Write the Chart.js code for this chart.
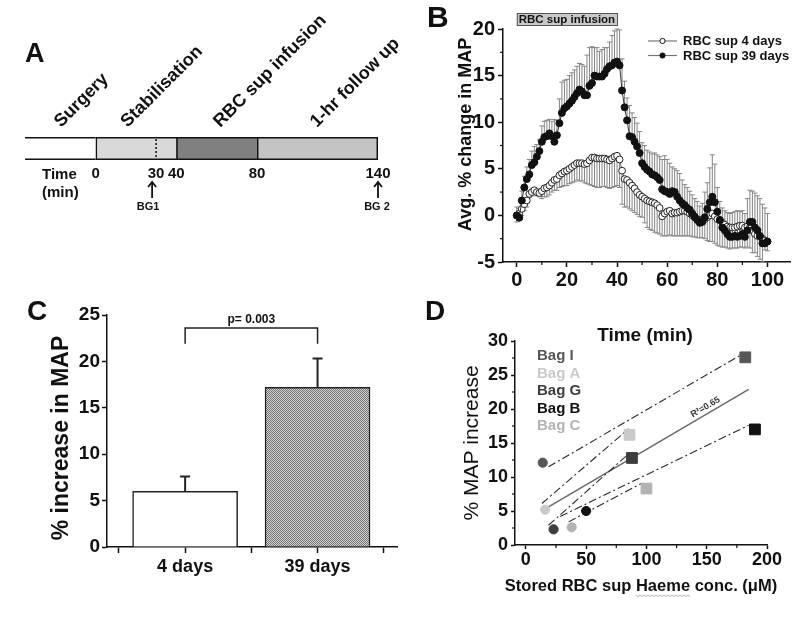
<!DOCTYPE html>
<html><head><meta charset="utf-8">
<script src="https://cdn.jsdelivr.net/npm/chart.js@4.4.1/dist/chart.umd.min.js"></script>
<style>
html,body{margin:0;padding:0;background:#fff;}
#wrap{position:relative;width:800px;height:618px;background:#fff;}
#wrap canvas{position:absolute;left:0;top:0;}
</style></head><body>
<div id="wrap">
<canvas id="cA" width="800" height="618"></canvas>
<canvas id="cB" width="800" height="618"></canvas>
<canvas id="cC" width="800" height="618"></canvas>
<canvas id="cD" width="800" height="618"></canvas>
</div>
<script>
// ---------- Panel A: protocol timeline ----------
const phaseNames  = ['Surgery', 'Stabilisation', 'RBC sup infusion', '1-hr follow up'];
const phaseStart  = [-35, 0, 40, 80];
const phaseEnd    = [0, 40, 80, 140];
const timeTicks   = [0, 30, 40, 80, 140];
const bgTimes     = [30, 140];
const bgLabels    = ['BG1', 'BG 2'];

// ---------- Panel B: time course ----------
const minutes = [0,1,2,3,4,5,6,7,8,9,10,11,12,13,14,15,16,17,18,19,20,21,22,23,24,25,26,27,28,29,30,31,32,33,34,35,36,37,38,39,40,41,42,43,44,45,46,47,48,49,50,51,52,53,54,55,56,57,58,59,60,61,62,63,64,65,66,67,68,69,70,71,72,73,74,75,76,77,78,79,80,81,82,83,84,85,86,87,88,89,90,91,92,93,94,95,96,97,98,99,100];
const seriesNames = ['RBC sup 4 days', 'RBC sup 39 days'];
const mapChange4 = [0,0.2,0.7,1.2,1.6,2.3,2.5,2.7,2.5,2.4, 2.6,2.9,3.0,3.2,3.5,3.8,3.9,4.3,4.5,4.7, 4.8,5.0,5.2,5.4,5.6,5.6,5.6,5.5,5.6,5.9, 6.2,6.2,6.1,6.1,6.1,6.1,6.0,5.9,6.1,6.3, 6.4,6.0,4.8,3.9,3.8,3.5,3.2,2.9,2.5,2.2, 2.0,1.8,1.6,1.5,1.4,1.3,1.1,0.8,-0.1,0.2, 0.4,0.5,0.2,0.3,0.3,0.4,0.5,0.5,0.4,0.2, 0.0,-0.1,-0.4,-0.5,-0.5,-0.4,-0.2,0.0,0.2,-0.1, -0.4,-0.5,-0.8,-1.0,-1.2,-1.3,-1.3,-1.3,-1.2,-1.1, -1.1,-1.3,-1.2,-1.3,-1.6,-2.0,-2.2,-2.3,-2.5,-2.7, -2.8];
const sem4 = [0.7,0.7,0.7,0.7,0.7,0.4,0.4,0.4,0.4,0.4, 0.8,0.9,1.0,1.0,1.0,1.1,1.2,1.3,1.4,1.5, 1.6,1.6,1.7,1.8,1.8,1.9,1.9,2.0,2.2,2.6, 3.0,3.1,3.1,3.1,3.0,3.0,3.0,3.0,3.1,3.2, 3.2,3.0,3.6,3.0,2.9,2.8,2.7,2.6,2.4,2.3, 2.2,2.6,2.9,3.0,3.0,3.1,3.0,2.8,2.1,2.4, 2.6,2.6,2.4,2.5,2.5,2.6,2.7,2.7,2.6,2.4, 2.3,2.2,2.0,1.9,1.9,2.1,2.5,2.8,3.0,2.9, 2.8,2.8,2.6,2.4,2.3,2.3,2.2,2.2,2.3,2.3, 2.3,2.2,2.2,2.2,2.4,2.0,2.2,2.4,2.5,1.0, 1.0];
const mapChange39 = [0,-0.25,1.6,3.0,3.9,4.4,5.4,5.7,6.3,6.9, 7.9,8.4,8.5,8.8,8.5,7.9,8.6,9.9,11.0,11.5, 11.7,12.0,12.3,12.7,13.1,13.5,13.3,12.9,12.9,13.9, 14.2,15.0,14.9,14.9,14.9,15.2,15.7,16.0,16.1,16.4, 16.5,16.1,13.4,11.6,10.2,8.5,8.4,7.9,7.4,6.7, 5.6,5.2,4.9,4.7,4.4,4.3,4.1,3.8,2.8,2.6, 2.5,2.3,2.6,2.5,2.0,1.6,1.3,1.1,0.8,0.6, 0.2,-0.2,-0.5,-0.8,-0.7,-0.2,0.7,1.4,2.0,1.4, 0.4,-0.5,-1.3,-1.6,-2.0,-2.3,-2.3,-2.2,-2.3,-2.2, -2.0,-2.3,-1.6,-0.7,-0.7,-1.3,-1.6,-2.2,-3.0,-3.0, -2.8];
const sem39 = [0.9,1.0,1.0,1.2,1.3,1.6,1.5,1.7,1.3,1.2, 1.7,1.7,1.7,1.5,1.6,2.4,1.6,2.6,3.3,3.0, 2.9,3.0,3.0,2.9,2.9,2.8,2.9,3.1,4.3,4.1, 3.9,3.0,3.1,2.7,2.9,2.8,2.3,2.6,3.2,3.4, 3.5,3.8,3.4,2.8,2.4,3.3,2.6,2.6,2.5,2.3, 2.2,2.3,2.1,2.1,2.2,2.4,2.4,2.5,3.2,3.8, 3.5,3.3,2.6,2.5,2.8,2.9,2.5,2.2,2.2,2.0, 2.0,2.0,2.0,1.8,2.0,2.7,2.8,3.7,4.5,4.1, 2.6,2.0,2.1,2.1,2.3,2.5,2.6,2.6,2.8,2.6, 2.5,2.5,3.4,3.4,3.3,3.7,3.7,4.0,4.2,3.8, 3.0];
const infusionWindow = [0, 40];

// ---------- Panel C: bar chart ----------
const groups = ['4 days', '39 days'];
const meanIncrease = [6.0, 17.2];
const semIncrease = [1.6, 3.1];
const pLabel = 'p= 0.003';

// ---------- Panel D: haeme vs MAP ----------
const bags = ['Bag I', 'Bag A', 'Bag G', 'Bag B', 'Bag C'];
const bagColors = ['#575757', '#c9c9c9', '#3d3d3d', '#111111', '#b3b3b3'];
const haemeLow  = [14, 16, 23, 50, 38];
const mapLow    = [12.1, 5.2, 2.3, 5.0, 2.6];
const haemeHigh = [182, 86, 88, 190, 100];
const mapHigh   = [27.6, 16.2, 12.8, 17.0, 8.3];
const fitX1 = [18.8, 13.3, 18.8, 28.5, 35.4];
const fitY1 = [11.5, 6.1, 2.9, 4.2, 3.4];
const fitX2 = [177.8, 85.3, 84.0, 184.8, 96.2];
const fitY2 = [27.9, 17.1, 13.2, 17.6, 9.1];
const regX = [18.8, 184.8];
const regY = [5.6, 22.9];
const r2Label = 'R\u00B2=0.65';

// ---------- helpers ----------
const FF = "'Liberation Sans', Arial, Helvetica, sans-serif";
const INK = '#111';
function pad(l, t, r, b, yW, xH) { return {left: l - yW, top: t, right: 800 - r, bottom: 618 - b - xH}; }
function bold(sz) { return {family: FF, size: sz, weight: 'bold'}; }
const base = {responsive: false, animation: false, devicePixelRatio: 1,
  plugins: {legend: {display: false}, tooltip: {enabled: false}}, events: []};
function axisStyle(extra) {
  return Object.assign({
    grid: {display: true, drawOnChartArea: false, drawTicks: true, tickLength: 5, tickColor: INK, tickWidth: 1.5},
    border: {display: true, color: INK, width: 1.5}
  }, extra);
}
function minorX(ctx, sc, vals, len) {
  ctx.save(); ctx.strokeStyle = INK; ctx.lineWidth = 1.2;
  vals.forEach(v => { const p = sc.getPixelForValue(v); ctx.beginPath(); ctx.moveTo(p, sc.top); ctx.lineTo(p, sc.top + len); ctx.stroke(); });
  ctx.restore();
}
function minorY(ctx, sc, vals, len) {
  ctx.save(); ctx.strokeStyle = INK; ctx.lineWidth = 1.2;
  vals.forEach(v => { const p = sc.getPixelForValue(v); ctx.beginPath(); ctx.moveTo(sc.right, p); ctx.lineTo(sc.right - len, p); ctx.stroke(); });
  ctx.restore();
}
function panelLetter(ctx, t, x, y, sz) {
  ctx.save(); ctx.font = `bold ${sz}px ${FF}`; ctx.fillStyle = INK; ctx.textAlign = 'left'; ctx.textBaseline = 'alphabetic';
  ctx.fillText(t, x, y); ctx.restore();
}
function vText(ctx, t, x, y, font) {
  ctx.save(); ctx.translate(x, y); ctx.rotate(-Math.PI / 2); ctx.font = font; ctx.fillStyle = INK;
  ctx.textAlign = 'center'; ctx.textBaseline = 'middle'; ctx.fillText(t, 0, 0); ctx.restore();
}

// ================= Panel A =================
const phaseColors = ['#ffffff', '#d9d9d9', '#808080', '#c4c4c4'];
const phaseBorders = [
  {top: 1.8, bottom: 1.8, left: 0, right: 0},
  {top: 1.8, bottom: 1.8, left: 1.8, right: 0},
  {top: 1.8, bottom: 1.8, left: 1.8, right: 0},
  {top: 1.8, bottom: 1.8, left: 1.8, right: 1.8}
];
const labelOffsets = [36, 32, 44, 60];
const timelinePlugin = {
  id: 'timeline',
  afterDraw(chart) {
    const {ctx, chartArea: a, scales: {x}} = chart;
    ctx.save();
    const xd = x.getPixelForValue(bgTimes[0]);
    ctx.strokeStyle = INK; ctx.lineWidth = 1.5; ctx.setLineDash([2, 2]);
    ctx.beginPath(); ctx.moveTo(xd, a.top + 2); ctx.lineTo(xd, a.bottom - 2); ctx.stroke();
    ctx.setLineDash([]);
    ctx.font = `bold 18px ${FF}`; ctx.fillStyle = INK; ctx.textAlign = 'left'; ctx.textBaseline = 'alphabetic';
    phaseNames.forEach((n, i) => {
      const px = x.getPixelForValue(phaseStart[i]) + labelOffsets[i];
      ctx.save(); ctx.translate(px, a.top - 9); ctx.rotate(-Math.PI / 4); ctx.fillText(n, 0, 0); ctx.restore();
    });
    ctx.font = `bold 15px ${FF}`;
    ctx.fillText('Time', a.left + 17, a.bottom + 19);
    ctx.fillText('(min)', a.left + 17, a.bottom + 37);
    bgTimes.forEach((t, i) => {
      const px = x.getPixelForValue(t) - (i === 0 ? 4 : 0);
      const y0 = a.bottom + 22, y1 = a.bottom + 38;
      ctx.strokeStyle = INK; ctx.lineWidth = 1.8;
      ctx.beginPath(); ctx.moveTo(px, y0 + 1); ctx.lineTo(px, y1); ctx.stroke();
      ctx.beginPath(); ctx.moveTo(px - 4, y0 + 5); ctx.lineTo(px, y0); ctx.lineTo(px + 4, y0 + 5); ctx.stroke();
      ctx.font = `bold 11px ${FF}`; ctx.textAlign = 'center';
      ctx.fillText(bgLabels[i], px - (i === 0 ? 4 : 1), a.bottom + 50);
      ctx.textAlign = 'left';
    });
    ctx.restore();
    panelLetter(ctx, 'A', a.left, 62, 27);
  }
};
new Chart(document.getElementById('cA'), {
  type: 'bar',
  data: {
    labels: ['Time'],
    datasets: phaseNames.map((n, i) => ({
      label: n,
      data: [[phaseStart[i], phaseEnd[i]]],
      backgroundColor: phaseColors[i],
      borderColor: INK,
      borderWidth: phaseBorders[i],
      borderSkipped: false,
      grouped: false,
      categoryPercentage: 1, barPercentage: 1
    }))
  },
  options: Object.assign({}, base, {
    indexAxis: 'y',
    layout: {padding: pad(25, 137, 378, 160, 0, 40)},
    scales: {
      x: {type: 'linear', min: -35, max: 140,
        afterBuildTicks: s => { s.ticks = timeTicks.map(v => ({value: v})); },
        afterFit: s => { s.height = 40; },
        grid: {display: false, drawTicks: false}, border: {display: false},
        ticks: {font: bold(15), color: INK, padding: 5, maxRotation: 0, autoSkip: false}},
      y: {display: false}
    }
  }),
  plugins: [timelinePlugin]
});

// ================= Panel B =================
const panelBPlugin = {
  id: 'panelB',
  beforeDatasetsDraw(chart) {
    const {ctx, scales: {x, y}} = chart;
    ctx.save(); ctx.strokeStyle = '#858585'; ctx.lineWidth = 1;
    const bars = (vals, errs, dir) => vals.forEach((v, i) => {
      const px = x.getPixelForValue(minutes[i]);
      const p0 = y.getPixelForValue(v), p1 = y.getPixelForValue(v + dir * errs[i]);
      ctx.beginPath(); ctx.moveTo(px, p0); ctx.lineTo(px, p1);
      ctx.moveTo(px - 2.5, p1); ctx.lineTo(px + 2.5, p1); ctx.stroke();
    });
    bars(mapChange4, sem4, -1);
    bars(mapChange39, sem39, 1);
    ctx.restore();
  },
  afterDraw(chart) {
    const {ctx, chartArea: a, scales: {x, y}} = chart;
    minorX(ctx, x, [10, 30, 50, 70, 90], 3);
    minorY(ctx, y, [-2.5, 2.5, 7.5, 12.5, 17.5], 3);
    ctx.save();
    const bx0 = x.getPixelForValue(infusionWindow[0]), bx1 = x.getPixelForValue(infusionWindow[1]);
    ctx.fillStyle = '#c8c8c8'; ctx.strokeStyle = '#555'; ctx.lineWidth = 1;
    ctx.fillRect(bx0, a.top - 16, bx1 - bx0, 12); ctx.strokeRect(bx0 + 0.5, a.top - 15.5, bx1 - bx0, 12);
    ctx.fillStyle = INK; ctx.font = `bold 11.5px ${FF}`; ctx.textAlign = 'center'; ctx.textBaseline = 'middle';
    ctx.fillText('RBC sup infusion', (bx0 + bx1) / 2, a.top - 9.5);
    const lx = a.right - 142;
    [ '#ffffff', '#111111' ].forEach((fill, r) => {
      const ly = a.top + 12 + r * 14.5;
      ctx.strokeStyle = '#777'; ctx.lineWidth = 1.2;
      ctx.beginPath(); ctx.moveTo(lx, ly); ctx.lineTo(lx + 29, ly); ctx.stroke();
      ctx.beginPath(); ctx.arc(lx + 14.5, ly, 2.6, 0, Math.PI * 2);
      ctx.fillStyle = fill; ctx.fill(); ctx.strokeStyle = INK; ctx.lineWidth = 1; ctx.stroke();
      ctx.fillStyle = INK; ctx.font = `bold 13px ${FF}`; ctx.textAlign = 'left'; ctx.textBaseline = 'middle';
      ctx.fillText(seriesNames[r], lx + 35, ly + 0.5);
    });
    ctx.restore();
    vText(ctx, 'Avg. % change in MAP', a.left - 37, (a.top + a.bottom) / 2 - 11, `bold 18px ${FF}`);
    panelLetter(ctx, 'B', a.left - 76, 27, 30);
  }
};
new Chart(document.getElementById('cB'), {
  type: 'line',
  data: {
    datasets: [
      {label: seriesNames[1], data: minutes.map((t, i) => ({x: t, y: mapChange39[i]})),
        borderColor: '#333', borderWidth: 1, pointRadius: 3.5, pointBackgroundColor: '#111',
        pointBorderColor: '#111', pointBorderWidth: 1, tension: 0},
      {label: seriesNames[0], data: minutes.map((t, i) => ({x: t, y: mapChange4[i]})),
        borderColor: '#666', borderWidth: 1, pointRadius: 3.4, pointBackgroundColor: '#fff',
        pointBorderColor: '#222', pointBorderWidth: 1, tension: 0}
    ]
  },
  options: Object.assign({}, base, {
    layout: {padding: pad(503, 29, 790, 262, 40, 30)},
    scales: {
      x: axisStyle({type: 'linear', min: -5.5, max: 109,
        afterBuildTicks: s => { s.ticks = [0, 20, 40, 60, 80, 100].map(v => ({value: v})); },
        afterFit: s => { s.height = 30; },
        ticks: {font: bold(20), color: INK, padding: 1, maxRotation: 0, autoSkip: false}}),
      y: axisStyle({type: 'linear', min: -5, max: 20,
        afterFit: s => { s.width = 40; },
        ticks: {stepSize: 5, font: bold(20), color: INK, padding: 3}})
    }
  }),
  plugins: [panelBPlugin]
});

// ================= Panel C =================
function makePattern() {
  const c = document.createElement('canvas'); c.width = 4; c.height = 4;
  const g = c.getContext('2d');
  g.fillStyle = '#d2d2d2'; g.fillRect(0, 0, 4, 4);
  g.fillStyle = '#747474';
  for (let i = 0; i < 4; i++) { g.fillRect(i, i, 1, 1); g.fillRect((i + 2) % 4, i, 1, 1); }
  return g.createPattern(c, 'repeat');
}
const panelCPlugin = {
  id: 'panelC',
  afterDraw(chart) {
    const {ctx, chartArea: a, scales: {x, y}} = chart;
    ctx.save();
    ctx.strokeStyle = '#222'; ctx.lineWidth = 2;
    meanIncrease.forEach((m, i) => {
      const px = x.getPixelForValue(i), p0 = y.getPixelForValue(m), p1 = y.getPixelForValue(m + semIncrease[i]);
      ctx.beginPath(); ctx.moveTo(px, p0); ctx.lineTo(px, p1); ctx.moveTo(px - 5, p1); ctx.lineTo(px + 5, p1); ctx.stroke();
    });
    const bx0 = x.getPixelForValue(0), bx1 = x.getPixelForValue(1);
    const by = y.getPixelForValue(23.6), bl = y.getPixelForValue(21.9);
    ctx.lineWidth = 1.5;
    ctx.beginPath(); ctx.moveTo(bx0, bl); ctx.lineTo(bx0, by); ctx.lineTo(bx1, by); ctx.lineTo(bx1, bl); ctx.stroke();
    ctx.fillStyle = INK; ctx.font = `bold 12px ${FF}`; ctx.textAlign = 'center'; ctx.textBaseline = 'alphabetic';
    ctx.fillText(pLabel, (bx0 + bx1) / 2, by - 5);
    ctx.restore();
    vText(ctx, '% increase in MAP', a.left - 45, (a.top + a.bottom) / 2 + 7, `bold 23px ${FF}`);
    panelLetter(ctx, 'C', a.left - 80, 320, 28);
  }
};
new Chart(document.getElementById('cC'), {
  type: 'bar',
  data: {
    datasets: [{
      label: '% increase in MAP',
      data: groups.map((g, i) => ({x: i, y: meanIncrease[i]})),
      backgroundColor: ['#ffffff', makePattern()],
      borderColor: '#222', borderWidth: 1.5, barThickness: 105
    }]
  },
  options: Object.assign({}, base, {
    layout: {padding: pad(107, 315, 397, 547, 50, 30)},
    scales: {
      x: axisStyle({type: 'linear', min: -0.59, max: 1.6, offset: false,
        grid: {display: true, drawOnChartArea: false, drawTicks: true, tickLength: 6, tickColor: INK, tickWidth: 1.5, offset: false},
        afterBuildTicks: s => { s.ticks = [-0.5, 0, 0.5, 1, 1.5].map(v => ({value: v})); },
        afterFit: s => { s.height = 30; },
        ticks: {font: bold(18), color: INK, padding: 3, maxRotation: 0, autoSkip: false,
          callback: v => (Number.isInteger(v) && v >= 0 && v < groups.length) ? groups[v] : ''}}),
      y: axisStyle({type: 'linear', min: 0, max: 25,
        afterFit: s => { s.width = 50; },
        ticks: {stepSize: 5, font: bold(19), color: INK, padding: 2}})
    }
  }),
  plugins: [panelCPlugin]
});

// ================= Panel D =================
const panelDPlugin = {
  id: 'panelD',
  afterDraw(chart) {
    const {ctx, chartArea: a, scales: {x, y}} = chart;
    minorX(ctx, x, [25, 75, 125, 175], 3);
    minorY(ctx, y, [2.5, 7.5, 12.5, 17.5, 22.5, 27.5], 3);
    ctx.save();
    ctx.font = `bold 15px ${FF}`; ctx.textAlign = 'left'; ctx.textBaseline = 'middle';
    bags.forEach((b, i) => { ctx.fillStyle = bagColors[i]; ctx.fillText(b, a.left + 22, a.top + 15 + i * 17.5); });
    const p1x = x.getPixelForValue(regX[0]), p1y = y.getPixelForValue(regY[0]);
    const p2x = x.getPixelForValue(regX[1]), p2y = y.getPixelForValue(regY[1]);
    const ang = Math.atan2(p2y - p1y, p2x - p1x);
    const fx = p1x + 0.8 * (p2x - p1x), fy = p1y + 0.8 * (p2y - p1y);
    ctx.save(); ctx.translate(fx, fy); ctx.rotate(ang);
    ctx.fillStyle = '#333'; ctx.font = `bold 9px ${FF}`; ctx.textAlign = 'center'; ctx.textBaseline = 'bottom';
    ctx.fillText(r2Label, 0, -2); ctx.restore();
    ctx.fillStyle = INK; ctx.textBaseline = 'alphabetic'; ctx.textAlign = 'center';
    ctx.font = `bold 19px ${FF}`;
    ctx.fillText('Time (min)', (a.left + a.right) / 2 + 4, a.top);
    ctx.font = `bold 16.5px ${FF}`;
    const xt = 'Stored RBC sup Haeme conc. (\u03BCM)';
    const cx = (a.left + a.right) / 2, by = a.bottom + 46;
    ctx.fillText(xt, cx, by);
    const w = ctx.measureText(xt).width, pre = ctx.measureText('Stored RBC sup ').width, hw = ctx.measureText('Haeme').width;
    const sx = cx - w / 2 + pre;
    ctx.strokeStyle = '#9a9a9a'; ctx.lineWidth = 0.8; ctx.beginPath();
    for (let k = 0; k <= hw; k += 2) { const yy = by + 4 + ((k / 2) % 2 === 0 ? 0 : 1.6); if (k === 0) ctx.moveTo(sx + k, yy); else ctx.lineTo(sx + k, yy); }
    ctx.stroke();
    ctx.restore();
    vText(ctx, '% MAP increase', a.left - 43, (a.top + a.bottom) / 2, `21px ${FF}`);
    panelLetter(ctx, 'D', a.left - 90, 320, 28);
  }
};
const dSets = [];
bags.forEach((b, i) => {
  dSets.push({label: b, order: 0, showLine: false,
    data: [{x: haemeLow[i], y: mapLow[i]}, {x: haemeHigh[i], y: mapHigh[i]}],
    pointStyle: ['circle', 'rect'], pointRadius: [4.6, 7.6],
    pointBackgroundColor: bagColors[i], pointBorderColor: bagColors[i], pointBorderWidth: 1});
});
bags.forEach((b, i) => {
  dSets.push({label: b + ' fit', order: 1, showLine: true, pointRadius: 0,
    data: [{x: fitX1[i], y: fitY1[i]}, {x: fitX2[i], y: fitY2[i]}],
    borderColor: '#2a2a2a', borderWidth: 1.1, borderDash: [8, 3, 2, 3]});
});
dSets.push({label: 'all', order: 1, showLine: true, pointRadius: 0,
  data: [{x: regX[0], y: regY[0]}, {x: regX[1], y: regY[1]}], borderColor: '#6a6a6a', borderWidth: 1.5});
new Chart(document.getElementById('cD'), {
  type: 'scatter',
  data: {datasets: dSets},
  options: Object.assign({}, base, {
    layout: {padding: pad(515, 341, 767, 545, 45, 30)},
    scales: {
      x: axisStyle({type: 'linear', min: -9, max: 200,
        grid: {display: true, drawOnChartArea: false, drawTicks: true, tickLength: 4, tickColor: INK, tickWidth: 1.5},
        afterBuildTicks: s => { s.ticks = [0, 50, 100, 150, 200].map(v => ({value: v})); },
        afterFit: s => { s.height = 30; },
        ticks: {font: bold(18), color: INK, padding: 0, maxRotation: 0, autoSkip: false}}),
      y: axisStyle({type: 'linear', min: 0, max: 30,
        grid: {display: true, drawOnChartArea: false, drawTicks: true, tickLength: 4, tickColor: INK, tickWidth: 1.5},
        afterFit: s => { s.width = 45; },
        ticks: {stepSize: 5, font: bold(18), color: INK, padding: 3}})
    }
  }),
  plugins: [panelDPlugin]
});
</script>
</body></html>
